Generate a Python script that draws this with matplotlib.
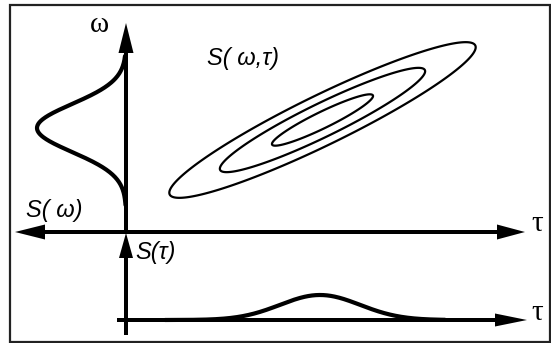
import numpy as np
import matplotlib.pyplot as plt

# Axis layout (pixel units, y grows downwards)
origin_x = 126
tau_axis_y = 232
low_axis_y = 320

# Spectrum S(w): centre, width, peak height (drawn to the left of the w axis)
spec_center = 128
spec_sigma = 24
spec_peak = 89

# Temporal profile S(tau): centre, width, peak height
time_center = 320
time_sigma = 40
time_peak = 25

# Joint distribution S(w,tau): centre, semi axes, tilt, contour radii
joint_center = (322.5, 120)
joint_axes = (170, 25)
joint_tilt = 26.0
joint_radii = [0.33, 0.67, 1.0]

fig = plt.figure(figsize=(5.51, 3.43), dpi=100)
ax = fig.add_axes([0, 0, 1, 1])
ax.set_xlim(0, 551)
ax.set_ylim(343, 0)
ax.set_aspect("auto")
ax.axis("off")

# frame
ax.add_patch(plt.Rectangle((10, 5), 540, 337, fill=False, ec="#222222", lw=1.6))

arrow_kw = dict(width=4, length_includes_head=True, fc="black", ec="none")
# w axis (up) and S(tau) axis (up from the bottom)
ax.arrow(origin_x, tau_axis_y + 2, 0, 23 - tau_axis_y - 2, head_width=15, head_length=30, **arrow_kw)
ax.arrow(origin_x, 335, 0, tau_axis_y + 1 - 335, head_width=14, head_length=25, **arrow_kw)
# main tau axis, both directions
ax.arrow(origin_x + 2, tau_axis_y, 15 - origin_x - 2, 0, head_width=15, head_length=30, **arrow_kw)
ax.arrow(origin_x - 2, tau_axis_y, 525 - origin_x + 2, 0, head_width=15, head_length=28, **arrow_kw)
# lower tau axis
ax.arrow(117, low_axis_y, 527 - 117, 0, head_width=13, head_length=32, **arrow_kw)

# S(w) curve
w = np.linspace(56, 205, 300)
ax.plot(origin_x - spec_peak * np.exp(-(w - spec_center) ** 2 / (2 * spec_sigma ** 2)), w,
        color="black", lw=3, solid_capstyle="round")

# S(tau) curve
t = np.linspace(165, 445, 300)
ax.plot(t, low_axis_y - time_peak * np.exp(-(t - time_center) ** 2 / (2 * time_sigma ** 2)),
        color="black", lw=3, solid_capstyle="round")

# S(w,tau) contours
X, Y = np.meshgrid(np.linspace(140, 510, 700), np.linspace(25, 215, 400))
th = np.deg2rad(joint_tilt)
dx, dy = X - joint_center[0], Y - joint_center[1]
u = dx * np.cos(th) - dy * np.sin(th)
v = dx * np.sin(th) + dy * np.cos(th)
Q = (u / joint_axes[0]) ** 2 + (v / joint_axes[1]) ** 2
ax.contour(X, Y, Q, levels=np.array(joint_radii) ** 2, colors="black", linewidths=1.6)

# labels
lab = dict(fontsize=17, color="black", ha="center", va="center")
greek = dict(lab, fontsize=21, family="Liberation Serif")
ax.text(99, 25, "ω", **greek)
ax.text(243, 59, "S( ω,τ)", family="Liberation Sans", style="italic", **lab)
ax.text(54, 210, "S( ω)", family="Liberation Sans", style="italic", **lab)
ax.text(156, 252, "S(τ)", family="Liberation Sans", style="italic", **lab)
ax.text(537, 224, "τ", **greek)
ax.text(537, 313, "τ", **greek)

fig.savefig("out.png", dpi=100)
